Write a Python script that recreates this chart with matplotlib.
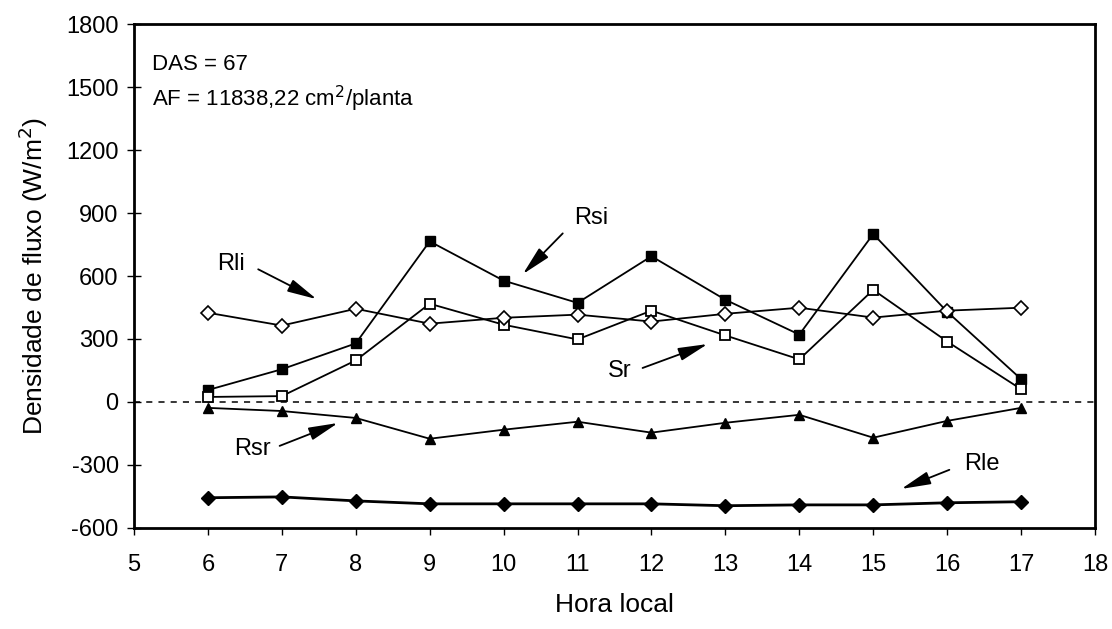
import numpy as np
import matplotlib
matplotlib.use("Agg")
import matplotlib.pyplot as plt

plt.rcParams['font.family'] = ['Liberation Sans Narrow', 'Liberation Sans', 'DejaVu Sans']
plt.rcParams['axes.unicode_minus'] = False

# data (W/m2 per hour)
hora = [6, 7, 8, 9, 10, 11, 12, 13, 14, 15, 16, 17]
Rsi = [57, 156, 279, 765, 578, 472, 694, 487, 321, 800, 430, 109]
Sr = [24, 28, 198, 468, 368, 298, 435, 317, 203, 534, 288, 61]
Rli = [425, 364, 444, 373, 401, 416, 383, 420, 449, 402, 435, 449]
Rsr = [-28, -43, -76, -175, -132, -94, -146, -99, -61, -170, -90, -28]
Rle = [-456, -452, -471, -485, -485, -485, -485, -494, -490, -490, -480, -475]

xticks = list(range(5, 19))
yticks = list(range(-600, 1801, 300))

fig = plt.figure(figsize=(11.12, 6.29), dpi=100)
ax = fig.add_axes([0.1205, 0.1606, 0.8642, 0.8012])

ms = 7
lw = 1.3
ax.axhline(0, color='k', lw=1.1, ls=(0, (4, 4)), zorder=1)
ax.plot(hora, Rsi, '-s', color='k', lw=lw, ms=ms, mfc='k', mec='k')
ax.plot(hora, Sr, '-s', color='k', lw=lw, ms=ms, mfc='white', mec='k', mew=1.3)
ax.plot(hora, Rli, '-D', color='k', lw=lw, ms=ms, mfc='white', mec='k', mew=1.2)
ax.plot(hora, Rsr, '-^', color='k', lw=lw, ms=ms, mfc='k', mec='k')
ax.plot(hora, Rle, '-D', color='k', lw=2, ms=ms, mfc='k', mec='k')

ax.set_xlim(5, 18)
ax.set_ylim(-600, 1800)
ax.set_xticks(xticks)
ax.set_yticks(yticks)
ax.tick_params(axis='x', direction='out', length=5, width=1, labelsize=17, pad=14)
ax.tick_params(axis='y', direction='inout', length=10, width=1, labelsize=17, pad=6)
for s in ax.spines.values():
    s.set_linewidth(2)

ax.set_xlabel('Hora local', fontsize=19, labelpad=12)
ax.set_ylabel('Densidade de fluxo (W/m$^2$)', fontsize=19, labelpad=12)

ax.text(5.24, 1607, 'DAS = 67', fontsize=16, va='center', ha='left')
ax.text(5.24, 1445, 'AF = 11838,22 cm$^2$/planta', fontsize=16, va='center', ha='left')

arrow = dict(arrowstyle='-|>,head_length=0.9,head_width=0.2', color='k', lw=1.3,
             shrinkA=0, shrinkB=0, mutation_scale=20)
labels = [('Rsi', (11.18, 875), (10.8, 803), (10.26, 609)),
          ('Rli', (6.31, 656), (6.68, 632), (7.47, 490)),
          ('Sr', (11.57, 147), (11.88, 162), (12.76, 276)),
          ('Rsr', (6.6, -224), (6.97, -209), (7.76, -100)),
          ('Rle', (16.47, -295), (16.03, -323), (15.38, -414))]
for name, tpos, tail, tip in labels:
    ax.text(tpos[0], tpos[1], name, fontsize=17, ha='center', va='center')
    ax.annotate('', xy=tip, xytext=tail, arrowprops=arrow)

fig.savefig('out.png', dpi=100)
